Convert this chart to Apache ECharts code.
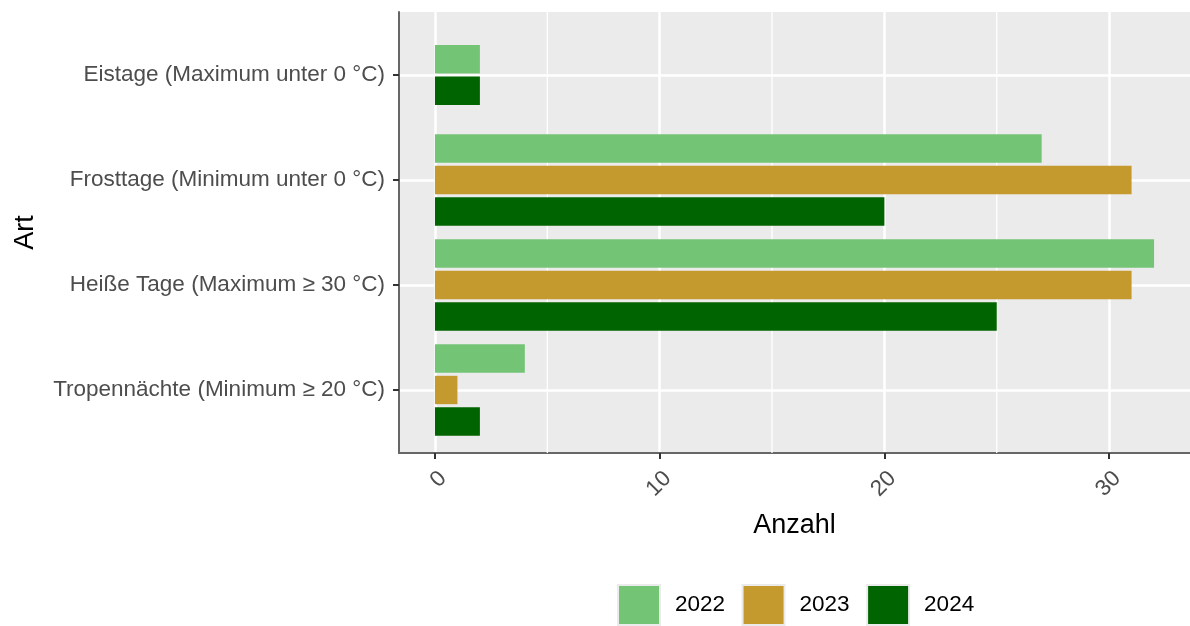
<!DOCTYPE html>
<html>
<head>
<meta charset="utf-8">
<script src="https://cdn.jsdelivr.net/npm/echarts@6/dist/echarts.min.js"></script>
<style>
html,body{margin:0;padding:0;background:#fff;}
#chart{width:1190px;height:626px;}
</style>
</head>
<body>
<div id="chart"></div>
<script>
const categories = ['Eistage (Maximum unter 0 °C)', 'Frosttage (Minimum unter 0 °C)', 'Heiße Tage (Maximum ≥ 30 °C)', 'Tropennächte (Minimum ≥ 20 °C)'];
const years = ['2022', '2023', '2024'];
const values2022 = [2, 27, 32, 4];
const values2023 = [null, 31, 31, 1];
const values2024 = [2, 20, 25, 2];
const xTicks = [0, 10, 20, 30];
const xMinorTicks = [5, 15, 25];
const colors = ['#74C476', '#C4992E', '#006400'];

const valuesByYear = [values2022, values2023, values2024];
const FONT = "'Liberation Sans', Arial, sans-serif";

function makeBarSeries(yi) {
  const data = [];
  valuesByYear[yi].forEach((v, ci) => { if (v != null) data.push([v, ci + 1, ci]); });
  return {
    type: 'custom',
    name: years[yi],
    z: 5,
    itemStyle: { color: colors[yi] },
    encode: { x: 0, y: 1 },
    data: data,
    renderItem: function (params, api) {
      const v = api.value(0), c = api.value(1), ci = api.value(2);
      const present = [];
      valuesByYear.forEach((arr, k) => { if (arr[ci] != null) present.push(k); });
      const n = present.length, idx = present.indexOf(yi);
      const band = Math.abs(api.size([0, 1])[1]);
      const slot = 0.9 * band / 3;
      const h = slot * 0.9;
      const p0 = api.coord([0, c]);
      const p1 = api.coord([v, c]);
      const cy = p0[1] + (idx - (n - 1) / 2) * slot;
      return {
        type: 'rect',
        shape: { x: p0[0], y: cy - h / 2, width: p1[0] - p0[0], height: h },
        style: { fill: colors[yi] }
      };
    }
  };
}

const minorSeries = {
  type: 'custom',
  name: 'minor',
  z: 1,
  silent: true,
  encode: { x: 0 },
  data: xMinorTicks.map(v => [v]),
  renderItem: function (params, api) {
    const a = api.coord([api.value(0), 0.4]);
    const b = api.coord([api.value(0), 4.6]);
    return { type: 'line', shape: { x1: a[0], y1: a[1], x2: b[0], y2: b[1] }, style: { stroke: '#FFFFFF', lineWidth: 1.3 } };
  }
};

const chart = echarts.init(document.getElementById('chart'), null, { renderer: 'canvas' });
chart.setOption({
  animation: false,
  textStyle: { fontFamily: FONT },
  grid: { left: 399, top: 12, width: 793, height: 441, show: true, backgroundColor: '#EBEBEB', borderWidth: 0, containLabel: false },
  xAxis: {
    type: 'value', min: -1.6, max: 33.6,
    name: 'Anzahl', nameLocation: 'middle', nameGap: 59,
    nameTextStyle: { fontSize: 27, color: '#000', fontFamily: FONT },
    axisLine: { show: true, onZero: false, lineStyle: { color: '#666666', width: 2 } },
    axisTick: { show: true, customValues: xTicks, length: 6, lineStyle: { color: '#333', width: 2 } },
    axisLabel: { customValues: xTicks, rotate: 45, align: 'right', verticalAlign: 'top', color: '#4D4D4D', fontSize: 22.5, margin: 14, fontFamily: FONT },
    splitLine: { show: true, lineStyle: { color: '#FFFFFF', width: 2.5 } }
  },
  yAxis: {
    type: 'value', min: 0.4, max: 4.6, inverse: true,
    name: 'Art', nameLocation: 'middle', nameGap: 360, nameRotate: 90,
    nameTextStyle: { fontSize: 27, color: '#000', fontFamily: FONT },
    axisLine: { show: true, onZero: false, lineStyle: { color: '#666666', width: 2 } },
    axisTick: { show: true, customValues: [1, 2, 3, 4], length: 6, lineStyle: { color: '#333', width: 2 } },
    axisLabel: { customValues: [1, 2, 3, 4], color: '#4D4D4D', fontSize: 22.5, margin: 14, fontFamily: FONT,
      formatter: v => categories[Math.round(v) - 1] },
    splitLine: { show: true, lineStyle: { color: '#FFFFFF', width: 2.5 } }
  },
  legend: {
    data: years, left: 612, top: 579, orient: 'horizontal',
    icon: 'rect', itemWidth: 42, itemHeight: 40, itemGap: 16.5,
    itemStyle: { borderColor: '#EBEBEB', borderWidth: 2 },
    textStyle: { fontSize: 22.5, color: '#000', padding: [0, 0, 0, 10], fontFamily: FONT },
    selectedMode: false
  },
  series: [minorSeries, makeBarSeries(0), makeBarSeries(1), makeBarSeries(2)]
});
</script>
</body>
</html>
